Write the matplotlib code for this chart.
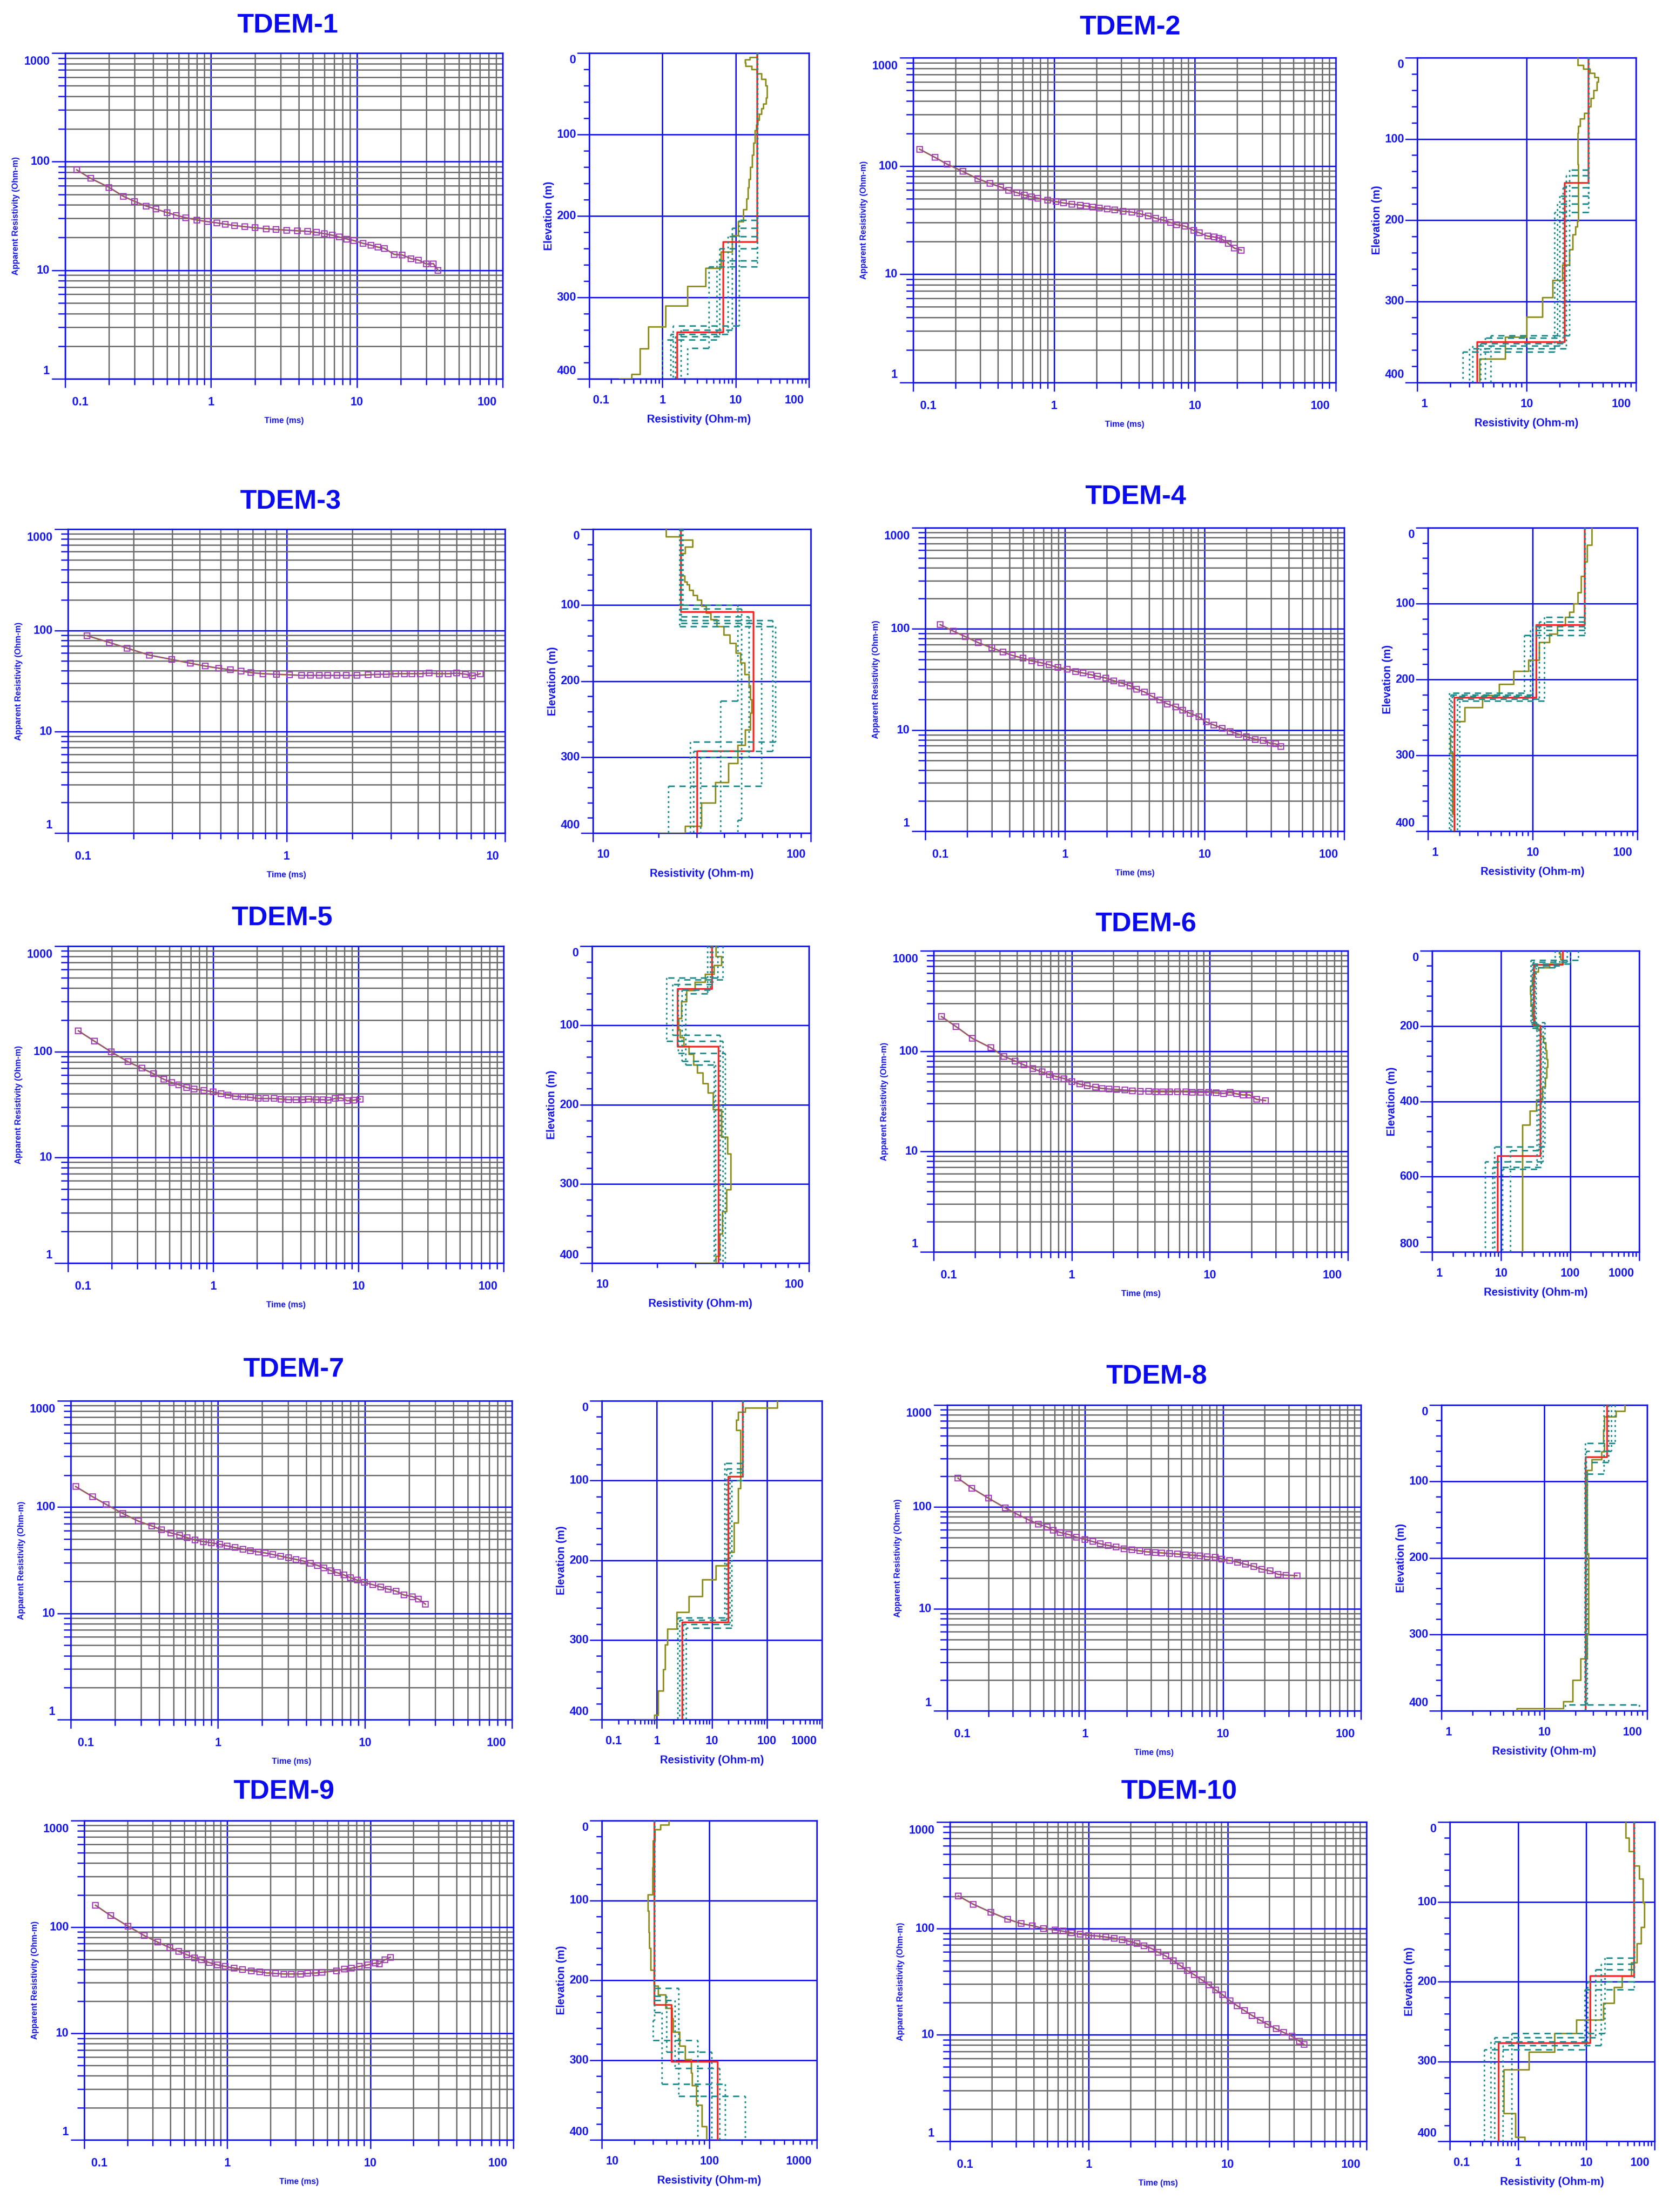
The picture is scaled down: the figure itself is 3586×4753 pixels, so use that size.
import numpy as np
import matplotlib
matplotlib.use('Agg')
import matplotlib.pyplot as plt
from matplotlib.collections import LineCollection

# ---------------- DATA ----------------
titles = ['TDEM-1', 'TDEM-2', 'TDEM-3', 'TDEM-4', 'TDEM-5',
          'TDEM-6', 'TDEM-7', 'TDEM-8', 'TDEM-9', 'TDEM-10']

# sounding curves: time (ms) and apparent resistivity (Ohm-m)
t1 = [0.12, 0.15, 0.2, 0.25, 0.3, 0.36, 0.42, 0.5, 0.58, 0.67, 0.8, 0.95, 1.1, 1.25, 1.45, 1.7, 2.0, 2.4, 2.8,
      3.3, 3.9, 4.6, 5.3, 6.0, 6.8, 7.6, 8.5, 9.5, 11, 12.5, 14, 15.5, 18, 20.5, 23.5, 26.5, 30, 33.5, 36]
rho1 = [84, 70, 58, 48, 43, 39, 36.5, 34, 32, 30.5, 29, 28, 27.3, 26.6, 25.8, 25.2, 24.6, 24.1, 23.7,
        23.4, 23.1, 22.8, 22.3, 21.7, 21, 20.2, 19.4, 18.8, 17.7, 17, 16.3, 15.9, 14, 13.8, 12.8, 12.4, 11.4, 11.5, 10]

t2 = [0.111, 0.143, 0.174, 0.225, 0.288, 0.352, 0.417, 0.476, 0.544, 0.615, 0.69, 0.77, 0.90, 1.03, 1.17, 1.34,
      1.53, 1.70, 1.89, 2.09, 2.39, 2.7, 3.1, 3.57, 4.06, 4.65, 5.28, 6.0, 6.7, 7.4, 8.5, 9.8, 10.8, 12.3, 13.7,
      14.8, 15.8, 17.2, 19.1, 21.4]
rho2 = [143, 120, 104, 89, 76, 69, 64, 59.6, 56.8, 53.8, 52, 50.4, 48.3, 46.9, 45.5, 44.4, 43.6, 42.6, 41.6, 41.1,
        40.2, 39.2, 38.2, 37.5, 36.2, 34.7, 32.9, 31.5, 30.1, 28.7, 27.8, 25.4, 24.1, 22.5, 22.1, 21.6, 20.8, 19.3,
        17.4, 16.7]

t3 = [0.122, 0.155, 0.186, 0.236, 0.299, 0.364, 0.425, 0.49, 0.555, 0.62, 0.688, 0.78, 0.90, 1.03, 1.17, 1.29,
      1.41, 1.54, 1.70, 1.88, 2.1, 2.36, 2.61, 2.87, 3.16, 3.46, 3.75, 4.1, 4.5, 5.0, 5.5, 6.0, 6.6, 7.1, 7.7]
rho3 = [89, 76, 67, 57, 51.7, 47.4, 44.5, 42.4, 40.8, 39.8, 38.3, 37.4, 36.9, 36.5, 36.0, 36, 36, 36, 36, 36,
        36, 36.5, 36.9, 36.9, 37.4, 37.4, 37.4, 37.4, 37.9, 37.4, 37.4, 37.9, 37, 35.6, 37.4]

t4 = [0.128, 0.159, 0.193, 0.24, 0.30, 0.36, 0.42, 0.50, 0.58, 0.67, 0.77, 0.89, 1.04, 1.19, 1.35, 1.54, 1.71,
      1.96, 2.24, 2.55, 2.92, 3.26, 3.71, 4.19, 4.77, 5.43, 6.2, 6.98, 7.9, 9.1, 10.3, 11.7, 13.4, 15.3, 17.5,
      19.9, 23.1, 26.4, 29.5, 32.3, 35.3]
rho4 = [110, 95, 84, 73, 65, 59, 54.7, 51.3, 48.2, 46.4, 44.2, 41.5, 40, 38, 36.6, 35.2, 33.9, 32.7, 30.7, 29.1,
        27.4, 25.4, 23.8, 21.6, 19.9, 18.1, 17.0, 15.7, 14.6, 13.5, 12.0, 11.2, 10.4, 9.7, 9.1, 8.6, 8.1, 7.9,
        7.4, 7.3, 6.9]

t5 = [0.118, 0.152, 0.198, 0.259, 0.323, 0.389, 0.457, 0.518, 0.58, 0.655, 0.74, 0.86, 1.0, 1.13, 1.27, 1.42,
      1.6, 1.81, 2.04, 2.31, 2.63, 2.94, 3.31, 3.72, 4.12, 4.55, 5.1, 5.7, 6.2, 6.9, 7.6, 8.4, 9.3, 10.3]
rho5 = [158, 126, 100, 80.6, 69.8, 61.9, 54.9, 51.2, 48.7, 45.9, 44.3, 43.2, 41.7, 40.2, 38.8, 37.9, 37.4, 37.0,
        36.1, 36.1, 36.1, 35.7, 35.2, 35.2, 35.2, 35.7, 35.2, 35.2, 34.8, 36.1, 36.6, 34.4, 34.8, 35.7]

t6 = [0.114, 0.145, 0.191, 0.26, 0.322, 0.388, 0.45, 0.524, 0.61, 0.69, 0.77, 0.88, 1.0, 1.14, 1.30, 1.49, 1.66,
      1.86, 2.12, 2.42, 2.76, 3.15, 3.6, 4.04, 4.56, 5.1, 5.85, 6.7, 7.5, 8.6, 9.8, 11.1, 12.6, 14.0, 15.6, 17.4,
      19.4, 21.8, 25.3]
rho6 = [221, 176, 134, 108, 89, 80, 73, 66.9, 62, 58.2, 56, 53.3, 50, 47, 45.2, 43.6, 42.5, 42, 41.5, 40.9, 40.4,
        39.9, 39.9, 39.4, 39.4, 39.4, 39.4, 39.4, 38.9, 38.9, 38.9, 38.4, 37.9, 38.9, 37.6, 36.6, 36.6, 33.1, 32.2]

t7 = [0.108, 0.141, 0.174, 0.226, 0.288, 0.356, 0.414, 0.48, 0.55, 0.62, 0.70, 0.80, 0.90, 1.03, 1.16, 1.31, 1.48,
      1.67, 1.88, 2.1, 2.36, 2.68, 3.02, 3.39, 3.81, 4.25, 4.75, 5.28, 5.88, 6.5, 7.2, 8.0, 8.9, 9.9, 11.3, 12.8,
      14.4, 16.3, 18.4, 21, 23.2, 25.8]
rho7 = [156, 125, 106, 87, 73.8, 66.4, 61.2, 57.1, 54.5, 51.4, 49, 47.3, 46.2, 44.6, 43.1, 41.6, 40.2, 38.8, 37.9,
        37, 35.8, 34.5, 33.3, 32.2, 31.1, 29.6, 28.3, 26.8, 25.2, 24.1, 23, 21.6, 20.5, 19.5, 18.6, 17.7, 16.9,
        16.2, 14.9, 14.4, 13.6, 12.2]

t8 = [0.120, 0.151, 0.199, 0.265, 0.325, 0.392, 0.46, 0.53, 0.59, 0.66, 0.76, 0.87, 1.0, 1.14, 1.29, 1.47, 1.68,
      1.92, 2.18, 2.49, 2.83, 3.22, 3.6, 4.1, 4.7, 5.35, 6.0, 6.8, 7.7, 8.8, 9.8, 11.2, 12.8, 14.6, 16.7, 19.1,
      21.9, 25.1, 28.7, 34.4]
rho8 = [191, 153, 122, 97.6, 84.2, 74.5, 67.6, 63.6, 59.1, 56.2, 53.6, 50.4, 48, 45.7, 43.5, 41.9, 40.4, 38.9, 38,
        37.1, 36.2, 35.8, 35.4, 34.9, 34.5, 34, 33.6, 33.2, 32.4, 32, 30.9, 29.8, 28.7, 27.3, 26.1, 24.5, 23.6,
        21.8, 21.4, 21.2]

t9 = [0.120, 0.153, 0.202, 0.263, 0.327, 0.396, 0.458, 0.52, 0.59, 0.66, 0.75, 0.85, 0.97, 1.12, 1.28, 1.47, 1.68,
      1.90, 2.18, 2.49, 2.8, 3.26, 3.65, 4.14, 4.6, 5.8, 6.6, 7.4, 8.4, 9.6, 10.8, 11.6, 12.6, 13.8]
rho9 = [160, 128, 102, 83, 72, 64, 59, 55, 51.5, 49.1, 46.3, 44.1, 42.6, 41.1, 39.7, 38.8, 37.9, 37, 36.6, 36.2,
        36.2, 36.2, 36.6, 37, 37.5, 38.8, 40.2, 41.1, 42.6, 44.1, 45.7, 45.2, 49.1, 52]

t10 = [0.115, 0.147, 0.197, 0.261, 0.326, 0.393, 0.47, 0.57, 0.65, 0.75, 0.87, 1.0, 1.15, 1.33, 1.52, 1.74, 1.97,
       2.22, 2.5, 2.82, 3.16, 3.58, 4.05, 4.58, 5.13, 5.77, 6.5, 7.3, 8.2, 9.2, 10.4, 11.7, 13.2, 15.0, 17.2, 19.5,
       22.3, 25.4, 29, 33, 35.6]
rho10 = [202, 169, 142, 122, 111, 106, 100, 96.6, 94.3, 91.1, 88, 85.9, 84.9, 83, 81, 78.2, 75.5, 72.1, 68.8,
         64.9, 59.8, 55.1, 49.6, 44.6, 40.1, 36.6, 32.9, 29.6, 26.4, 23.8, 20.9, 18.8, 16.9, 15.2, 13.7, 12.5, 11.4,
         10.5, 9.7, 8.7, 8.1]

# layered (red) inversion models: layer resistivities and interface depths (m)
red1_rho, red1_d = [19.8, 6.8, 1.6], [232, 343]
red2_rho, red2_d = [36.7, 22.3, 3.55], [154, 350]
red3_rho, red3_d = [25.4, 54.7, 30.1], [109, 292]
red4_rho, red4_d = [31.6, 10.8, 1.8], [128, 224]
red5_rho, red5_d = [35.8, 24.8, 38.3], [54, 127]
red6_rho, red6_d = [78, 29.9, 37.2, 8.9], [37, 199, 545]
red7_rho, red7_d = [36.3, 19.8, 2.9], [95, 278]
red8_rho, red8_d = [40.8, 25.4], [68]
red9_rho, red9_d = [30.9, 44.7, 120], [231, 302]
red10_rho, red10_d = [50, 11.5, 0.52], [193, 277]

# smooth (olive) models: layer top depth (m) and resistivity
olive1_top = [0, 5, 8, 12, 16, 20, 25, 32, 40, 55, 62, 68, 75, 82, 88, 95, 110, 125, 140, 155, 165, 179, 192, 207,
              224, 244, 264, 286, 310, 336, 363, 394, 400]
olive1_rho = [19.8, 15.5, 13.4, 13.6, 16.5, 19.5, 22.5, 25.5, 26.8, 26, 24, 22.5, 21, 20, 19, 18.2, 17.4, 16.8,
              15.9, 15.2, 14.6, 14.1, 12.7, 10.8, 8.9, 6.3, 3.9, 2.2, 1.1, 0.64, 0.49, 0.38, 0.26]
olive2_top = [0, 9, 14, 19, 24, 30, 40, 50, 60, 68, 75, 84, 93, 100, 131, 201, 208, 218, 236, 255, 274, 295, 319,
              344, 371]
olive2_rho = [29.5, 33, 38, 42, 45, 44, 41, 38.5, 36.7, 33.6, 31, 29.8, 29.5, 29.5, 29.8, 29, 27.9, 26.3, 24.7,
              21.2, 17.3, 13.9, 10, 6.4, 3.7]
olive3_top = [0, 10, 14, 23, 32, 61, 69, 73, 80, 87, 93, 101, 110, 119, 128, 139, 150, 163, 176, 191, 206, 224, 242,
              264, 284, 308, 333, 360, 391, 400]
olive3_rho = [21.6, 25.4, 28.7, 26.5, 25.4, 26.4, 27, 27.7, 28.8, 30.1, 31.5, 33.1, 34.8, 37.1, 39.8, 42.5, 45.2,
              47.6, 49.8, 52, 52.8, 53.6, 52.8, 49.9, 46.3, 41.8, 36.5, 31.4, 26.5, 20]
olive4_top = [0, 23, 45, 64, 85, 100, 111, 118, 129, 140, 151, 174, 189, 206, 221, 237, 255, 275, 297, 377]
olive4_rho = [36.8, 33, 31, 29, 27, 24.5, 22.5, 20.5, 17.2, 14.5, 11.5, 9.1, 6.6, 4.8, 3.3, 2.25, 1.79, 1.63, 1.72,
              1.8]
olive5_top = [0, 13, 24, 35, 45, 56, 70, 91, 105, 115, 126, 136, 150, 160, 173, 185, 206, 241, 262, 307, 335, 363,
              391, 400]
olive5_rho = [37.2, 39.5, 36.5, 33.3, 29.8, 27.3, 25.8, 25.1, 25.4, 26.5, 28, 29.4, 30.6, 32.4, 34.2, 36.2, 39.4,
              42.1, 43.6, 41.7, 39.8, 38.8, 37.2, 29.7]
olive6_top = [0, 7, 24, 35, 45, 56, 69, 94, 115, 146, 174, 194, 208, 226, 243, 264, 288, 309, 337, 361, 396, 425,
              462]
olive6_rho = [69, 72, 78, 50, 34.6, 30.3, 28.3, 26.5, 27, 28.3, 30.3, 33.4, 37.2, 41, 43.9, 45.3, 46.9, 45.3, 43.3,
              39.6, 32.4, 26.1, 20.2]
olive7_top = [0, 9, 14, 24, 37, 110, 153, 190, 207, 224, 245, 265, 286, 306, 337, 364, 394, 400]
olive7_rho = [155, 40, 30, 28, 33, 30, 25, 20, 11.8, 6.7, 3.8, 2.3, 1.57, 1.4, 1.3, 1.05, 0.9, 0.41]
olive8_top = [0, 8, 15, 32, 50, 61, 71, 85, 194, 300, 332, 360, 388, 397]
olive8_rho = [60.6, 50, 38.5, 37.5, 38.5, 36, 29, 26, 26.8, 26, 22.5, 18.8, 15.4, 5.4]
olive9_top = [0, 5, 11, 25, 59, 93, 113, 140, 160, 187, 207, 218, 235, 248, 265, 282, 299, 316, 332, 356, 383]
olive9_rho = [42.2, 35, 31, 29.8, 29.5, 26.9, 27.3, 27.7, 28.5, 30.5, 33.5, 39, 45.2, 46, 53, 59.6, 67.6, 69, 75.9,
              85.1, 94.4]
olive10_top = [0, 20, 37, 55, 71, 101, 132, 152, 176, 193, 207, 227, 248, 265, 288, 310, 365, 395]
olive10_rho = [37.8, 42, 50, 60, 67.6, 70.3, 63, 55, 45.4, 33.5, 25.7, 17.9, 7.1, 3.4, 1.45, 0.62, 0.91, 1.26]

# equivalent models (teal): (layer resistivities, interface depths)
eq1 = [([19.8, 11.2, 1.4], [205, 335]), ([19.8, 4.3, 2.2], [262, 362]), ([19.8, 5.5, 1.0], [255, 352]),
       ([19.8, 9.0, 1.8], [215, 340]), ([19.8, 6.0, 1.5], [240, 348]), ([19.8, 7.8, 1.3], [225, 345])]
eq2 = [([36.7, 24.7, 4.7], [138, 342]), ([36.7, 18, 2.6], [190, 362]), ([36.7, 20, 3.2], [170, 355]),
       ([36.7, 23, 3.0], [145, 358]), ([36.7, 19, 4.2], [180, 345]), ([36.7, 21.5, 3.8], [160, 352])]
eq3 = [([25.4, 59.5, 22.2], [124, 338]), ([25.8, 46.3, 38.5], [100, 226]), ([25.0, 68.9, 28.0], [128, 280]),
       ([25.4, 52.0, 31.2], [115, 300]), ([25.6, 48.0, 46.3], [105, 383]), ([25.2, 66.8, 29.0], [120, 292])]
eq4 = [([31.6, 8.3, 1.6], [142, 218]), ([31.6, 12.9, 2.0], [118, 228]), ([31.6, 9.5, 1.7], [135, 222]),
       ([31.6, 11.5, 1.9], [124, 226]), ([31.6, 10, 1.65], [130, 220])]
eq5 = [([38, 22, 40], [40, 120]), ([34, 27, 37], [60, 150]), ([36, 23.5, 39], [48, 112]),
       ([40, 25, 41], [42, 135]), ([35, 26, 36.5], [55, 145])]
eq6 = [([130, 27, 43, 8.0], [25, 190, 520]), ([60, 32, 33, 10.5], [45, 210, 580]),
       ([90, 29, 40, 5.9], [30, 200, 560]), ([70, 31, 35, 13.5], [40, 195, 530]),
       ([100, 28, 38, 7.5], [35, 205, 575])]
eq7 = [([36.3, 17, 2.4], [78, 272]), ([36.3, 23, 3.4], [100, 285]), ([36.3, 21, 3.0], [90, 280]),
       ([36.3, 18.5, 2.6], [85, 275])]
eq8 = [([48.9, 25.0, 25.0], [50, 390]), ([38.0, 26.0, 83.6], [90, 392]), ([45, 25.5, 16], [60, 392]),
       ([42, 24.8, 25], [75, 390])]
eq9 = [([30.9, 30, 78], [250, 275]), ([30.9, 52, 215], [210, 345]), ([30.9, 40, 105], [220, 290]),
       ([30.9, 36, 140], [240, 330]), ([30.9, 48, 125], [225, 310])]
eq10 = [([50, 18.6, 0.81], [170, 265]), ([50, 9.5, 0.32], [210, 285]), ([50, 13.7, 0.45], [185, 270]),
        ([50, 16.4, 0.6], [178, 280]), ([50, 10.5, 0.4], [200, 275])]

# axis ranges
sound_xlim = [(0.1, 100), (0.1, 100), (0.1, 10), (0.1, 100), (0.1, 100),
              (0.1, 100), (0.1, 100), (0.1, 100), (0.1, 100), (0.1, 100)]
prof_xlim = [(0.1, 100), (1, 100), (10, 100), (1, 100), (10, 100),
             (1, 1000), (0.1, 1000), (1, 100), (10, 1000), (0.1, 100)]
prof_depth = [400, 400, 400, 400, 400, 800, 400, 400, 400, 400]

# ---------------- LAYOUT (pixels of the 3586x4753 canvas) ----------------
W, H, DPI = 3586, 4753, 100
S_BOX = [(140, 114, 1080, 814), (1962, 124, 2870, 822), (146, 1137, 1085, 1790), (1988, 1134, 2888, 1786),
         (146, 2033, 1082, 2714), (2006, 2043, 2896, 2690), (152, 3010, 1100, 3695), (2035, 3019, 2924, 3676),
         (181, 3912, 1103, 4598), (2041, 3915, 2936, 4601)]
P_BOX = [(1266, 114, 1738, 814), (3045, 124, 3515, 822), (1274, 1137, 1742, 1790), (3068, 1134, 3518, 1786),
         (1272, 2033, 1738, 2714), (3077, 2043, 3522, 2690), (1293, 3010, 1766, 3695), (3097, 3019, 3539, 3676),
         (1293, 3912, 1755, 4598), (3115, 3915, 3555, 4601)]
T_POS = [(618, 55), (2428, 59), (624, 1078), (2440, 1068), (606, 1972), (2462, 1986), (631, 2943), (2485, 2958),
         (610, 3850), (2533, 3850)]

BLUE = '#1515F2'
TBLUE = '#0A0AF0'
GRAY = '#6a6a6a'
OLIVE = '#8E8E1E'
PURPLE = '#A23CB8'
RED = '#FF2020'
TEAL = '#1F8C8C'

plt.rcParams['font.family'] = ['Liberation Sans', 'DejaVu Sans']
fig = plt.figure(figsize=(W / DPI, H / DPI), dpi=DPI)
fig.patch.set_facecolor('white')


def add_ax(box):
    l, t, r, b = box
    return fig.add_axes([l / W, 1 - b / H, (r - l) / W, (b - t) / H])


def fmt(v):
    return f'{v:g}' if v < 1 else f'{int(round(v))}'


def log_ticks(lo, hi):
    major, minor = [], []
    e = int(np.floor(np.log10(lo) + 1e-9))
    while 10.0 ** e <= hi * 1.0001:
        d = 10.0 ** e
        if d >= lo * 0.9999:
            major.append(d)
        for m in range(2, 10):
            if lo < m * d < hi:
                minor.append(m * d)
        e += 1
    return major, minor


def style_axes(ax):
    for s in ax.spines.values():
        s.set_color(BLUE)
        s.set_linewidth(2.4)
    ax.tick_params(labelbottom=False, labelleft=False, top=False, right=False)


def xlabels(ax, vals, dy, size, dfirst, dlast):
    for i, v in enumerate(vals):
        ha, dx = 'center', 0
        if i == 0:
            ha, dx = 'left', dfirst
        elif i == len(vals) - 1:
            ha, dx = 'right', dlast
        ax.annotate(fmt(v), xy=(v, 0), xycoords=('data', 'axes fraction'), xytext=(dx, dy),
                    textcoords='offset points', ha=ha, va='center', fontsize=size,
                    fontweight='bold', color=BLUE)


def ylabels(ax, vals, dx, size, dtop, dbot, inverted=False):
    for i, v in enumerate(vals):
        dy = 0
        if i == 0:
            dy = dbot if not inverted else dtop
        elif i == len(vals) - 1:
            dy = dtop if not inverted else dbot
        ax.annotate(fmt(v), xy=(0, v), xycoords=('axes fraction', 'data'), xytext=(dx, dy),
                    textcoords='offset points', ha='right', va='center', fontsize=size,
                    fontweight='bold', color=BLUE)


def draw_sounding(k, t, rho):
    ax = add_ax(S_BOX[k])
    lo, hi = sound_xlim[k]
    ax.set_xscale('log')
    ax.set_yscale('log')
    ax.set_xlim(lo, hi)
    ax.set_ylim(1, 1000)
    xmaj, xmin = log_ticks(lo, hi)
    ymaj, ymin = log_ticks(1, 1000)
    ax.set_xticks(xmaj)
    ax.set_xticks(xmin, minor=True)
    ax.set_yticks(ymaj)
    ax.set_yticks(ymin, minor=True)
    ax.grid(which='minor', color=GRAY, lw=2.0)
    ax.grid(which='major', color=BLUE, lw=2.2)
    ax.set_axisbelow(True)
    style_axes(ax)
    ax.tick_params(axis='y', which='major', length=21, width=2, color=BLUE, direction='out')
    ax.tick_params(axis='y', which='minor', length=11, width=2, color=BLUE, direction='out')
    ax.tick_params(axis='x', which='major', length=14, width=2, color=BLUE, direction='out')
    ax.tick_params(axis='x', which='minor', length=9, width=2, color=BLUE, direction='out')
    ax.tick_params(which='both', labelbottom=False, labelleft=False)
    ax.plot(t, rho, color=OLIVE, lw=2.4, zorder=3)
    ax.plot(t, rho, color=PURPLE, lw=1.2, zorder=4)
    ax.plot(t, rho, 's', ms=9, mfc='none', mec=PURPLE, mew=1.7, zorder=5)
    xlabels(ax, xmaj, -36, 18, 11, -9)
    ylabels(ax, ymaj, -24, 18, -13, 12)
    ax.annotate('Time (ms)', xy=(0.5, 0), xycoords='axes fraction', xytext=(0, -65),
                textcoords='offset points', ha='center', va='center', fontsize=13,
                fontweight='bold', color=BLUE)
    ax.annotate('Apparent Resistivity (Ohm-m)', xy=(0, 0.5), xycoords='axes fraction', xytext=(-76, 0),
                textcoords='offset points', ha='center', va='center', fontsize=13, rotation=90,
                fontweight='bold', color=BLUE)
    x, y = T_POS[k]
    fig.text(x / W, 1 - y / H, titles[k], ha='center', va='center', fontsize=42,
             fontweight='bold', color=TBLUE)


def layer_xy(rho, tops, bottom):
    d = list(tops) + [bottom]
    xs, ys = [], []
    for i, r in enumerate(rho):
        xs += [r, r]
        ys += [d[i], d[i + 1]]
    return xs, ys


def draw_profile(k, red_rho, red_d, ol_top, ol_rho, eqs):
    ax = add_ax(P_BOX[k])
    lo, hi = prof_xlim[k]
    bottom = prof_depth[k]
    ax.set_xscale('log')
    ax.set_xlim(lo, hi)
    ax.set_ylim(bottom, 0)
    xmaj, xmin = log_ticks(lo, hi)
    step = bottom // 4
    ymaj = list(range(0, bottom + 1, step))
    ymin = [v for v in range(0, bottom + 1, step // 5) if v % step]
    ax.set_xticks(xmaj)
    ax.set_xticks(xmin, minor=True)
    ax.set_yticks(ymaj)
    ax.set_yticks(ymin, minor=True)
    ax.grid(which='major', color=BLUE, lw=2.2)
    ax.set_axisbelow(True)
    style_axes(ax)
    ax.tick_params(axis='y', which='major', length=19, width=2, color=BLUE, direction='out')
    ax.tick_params(axis='y', which='minor', length=9, width=2, color=BLUE, direction='out')
    ax.tick_params(axis='x', which='major', length=14, width=2, color=BLUE, direction='out')
    ax.tick_params(axis='x', which='minor', length=7, width=2, color=BLUE, direction='out')
    ax.tick_params(which='both', labelbottom=False, labelleft=False)

    xs, ys = layer_xy(ol_rho, ol_top, bottom)
    ax.plot(xs, ys, color=OLIVE, lw=2.4, zorder=3)
    xs, ys = layer_xy(red_rho, [0] + red_d, bottom)
    ax.plot(xs, ys, color=RED, lw=2.6, zorder=4)
    vsegs, hsegs = [], []
    for rho, dd in eqs:
        d = [0] + list(dd) + [bottom]
        for i, r in enumerate(rho):
            vsegs.append([(r, d[i]), (r, d[i + 1])])
            if i > 0:
                hsegs.append([(rho[i - 1], d[i]), (r, d[i])])
    ax.add_collection(LineCollection(vsegs, colors=TEAL, linestyles=[(0, (1.2, 2.0))],
                                     linewidths=2.4, zorder=5))
    ax.add_collection(LineCollection(hsegs, colors=TEAL, linestyles=[(0, (4, 3))],
                                     linewidths=2.4, zorder=5))
    xlabels(ax, xmaj, -33, 18, 6, -8)
    ylabels(ax, ymaj, -20, 18, -11, 12, inverted=True)
    ax.annotate('Resistivity (Ohm-m)', xy=(0.5, 0), xycoords='axes fraction', xytext=(0, -63),
                textcoords='offset points', ha='center', va='center', fontsize=17,
                fontweight='bold', color=BLUE)
    ax.annotate('Elevation (m)', xy=(0, 0.5), xycoords='axes fraction', xytext=(-62, 0),
                textcoords='offset points', ha='center', va='center', fontsize=17, rotation=90,
                fontweight='bold', color=BLUE)


soundings = [(t1, rho1), (t2, rho2), (t3, rho3), (t4, rho4), (t5, rho5),
             (t6, rho6), (t7, rho7), (t8, rho8), (t9, rho9), (t10, rho10)]
profiles = [(red1_rho, red1_d, olive1_top, olive1_rho, eq1),
            (red2_rho, red2_d, olive2_top, olive2_rho, eq2),
            (red3_rho, red3_d, olive3_top, olive3_rho, eq3),
            (red4_rho, red4_d, olive4_top, olive4_rho, eq4),
            (red5_rho, red5_d, olive5_top, olive5_rho, eq5),
            (red6_rho, red6_d, olive6_top, olive6_rho, eq6),
            (red7_rho, red7_d, olive7_top, olive7_rho, eq7),
            (red8_rho, red8_d, olive8_top, olive8_rho, eq8),
            (red9_rho, red9_d, olive9_top, olive9_rho, eq9),
            (red10_rho, red10_d, olive10_top, olive10_rho, eq10)]

for k in range(10):
    draw_sounding(k, *soundings[k])
    draw_profile(k, *profiles[k])

fig.savefig('out.png', dpi=DPI, facecolor='white')
